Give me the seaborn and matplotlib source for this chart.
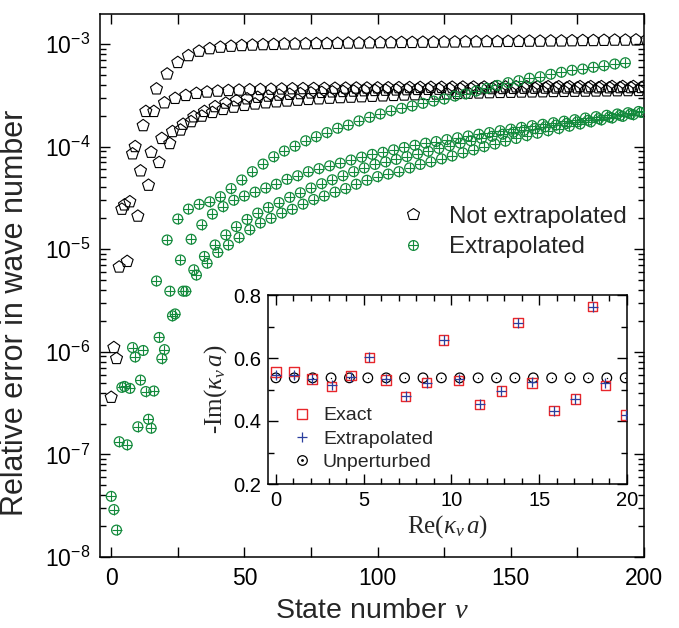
import numpy as np
import pandas as pd
import matplotlib
matplotlib.use("Agg")
import matplotlib.pyplot as plt
import seaborn as sns
from matplotlib.lines import Line2D
from matplotlib.legend_handler import HandlerTuple
from matplotlib import ticker

# ---------------- data (main panel) ----------------
# "Not extrapolated": four interleaved branches (state number nu mod 4)
pent_b0 = [3.6e-7, 2.45e-5, 8.5e-5, 1.6e-4, 2.2e-4, 2.67e-4, 2.95e-4, 3.15e-4, 3.3e-4, 3.4e-4,
           3.47e-4, 3.52e-4, 3.55e-4, 3.58e-4, 3.6e-4, 3.62e-4, 3.64e-4, 3.66e-4, 3.67e-4, 3.68e-4,
           3.69e-4, 3.7e-4, 3.71e-4, 3.72e-4, 3.72e-4, 3.73e-4, 3.74e-4, 3.75e-4, 3.76e-4, 3.77e-4,
           3.78e-4, 3.78e-4, 3.79e-4, 3.8e-4, 3.8e-4, 3.8e-4, 3.81e-4, 3.81e-4, 3.82e-4, 3.82e-4,
           3.82e-4, 3.83e-4, 3.83e-4, 3.83e-4, 3.84e-4, 3.84e-4, 3.84e-4, 3.85e-4, 3.85e-4, 3.85e-4,
           3.85e-4]
pent_b1 = [1.1e-6, 2.7e-5, 1.0e-4, 2.2e-4, 3.65e-4, 5.1e-4, 6.6e-4, 7.7e-4, 8.5e-4, 9.0e-4,
           9.3e-4, 9.5e-4, 9.65e-4, 9.75e-4, 9.85e-4, 9.9e-4, 1.0e-3, 1.0e-3, 1.005e-3, 1.01e-3,
           1.01e-3, 1.015e-3, 1.02e-3, 1.02e-3, 1.025e-3, 1.03e-3, 1.03e-3, 1.035e-3, 1.035e-3, 1.04e-3,
           1.04e-3, 1.045e-3, 1.045e-3, 1.05e-3, 1.05e-3, 1.055e-3, 1.055e-3, 1.06e-3, 1.06e-3, 1.065e-3,
           1.065e-3, 1.07e-3, 1.07e-3, 1.075e-3, 1.08e-3, 1.08e-3, 1.085e-3, 1.09e-3, 1.09e-3, 1.095e-3,
           1.1e-3]
pent_b2 = [8.6e-7, 7.6e-6, 2.1e-5, 4.2e-5, 7.0e-5, 1.07e-4, 1.45e-4, 1.75e-4, 1.98e-4, 2.15e-4,
           2.3e-4, 2.42e-4, 2.52e-4, 2.6e-4, 2.67e-4, 2.73e-4, 2.78e-4, 2.83e-4, 2.88e-4, 2.92e-4,
           2.96e-4, 3.0e-4, 3.03e-4, 3.06e-4, 3.09e-4, 3.12e-4, 3.15e-4, 3.18e-4, 3.2e-4, 3.22e-4,
           3.25e-4, 3.27e-4, 3.29e-4, 3.31e-4, 3.33e-4, 3.35e-4, 3.37e-4, 3.38e-4, 3.4e-4, 3.41e-4,
           3.42e-4, 3.44e-4, 3.45e-4, 3.46e-4, 3.47e-4, 3.48e-4, 3.49e-4, 3.5e-4, 3.51e-4, 3.52e-4]
pent_b3 = [6.7e-6, 2.9e-5, 5.8e-5, 8.8e-5, 1.2e-4, 1.4e-4, 1.65e-4, 1.95e-4, 2.2e-4, 2.45e-4,
           2.65e-4, 2.8e-4, 2.92e-4, 3.02e-4, 3.1e-4, 3.17e-4, 3.23e-4, 3.28e-4, 3.33e-4, 3.37e-4,
           3.41e-4, 3.44e-4, 3.47e-4, 3.5e-4, 3.52e-4, 3.54e-4, 3.56e-4, 3.58e-4, 3.6e-4, 3.61e-4,
           3.62e-4, 3.63e-4, 3.64e-4, 3.65e-4, 3.66e-4, 3.67e-4, 3.68e-4, 3.69e-4, 3.7e-4, 3.7e-4,
           3.71e-4, 3.72e-4, 3.72e-4, 3.73e-4, 3.73e-4, 3.74e-4, 3.74e-4, 3.75e-4, 3.75e-4, 3.76e-4]

# "Extrapolated": four interleaved branches
ext_b0 = [3.9e-8, 4.5e-7, 1.1e-6, 1.03e-6, 4.15e-7, 1.05e-6, 2.34e-6, 3.9e-6, 5.6e-6, 7.3e-6,
          9.3e-6, 1.1e-5, 1.3e-5, 1.55e-5, 1.8e-5, 2.0e-5, 2.25e-5, 2.45e-5, 2.75e-5, 3.05e-5,
          3.3e-5, 3.6e-5, 3.9e-5, 4.3e-5, 4.7e-5, 5.1e-5, 5.4e-5, 5.7e-5, 6.2e-5, 6.7e-5,
          7.1e-5, 7.6e-5, 8.1e-5, 8.7e-5, 9.3e-5, 1.0e-4, 1.06e-4, 1.13e-4, 1.2e-4, 1.28e-4,
          1.35e-4, 1.43e-4, 1.5e-4, 1.58e-4, 1.66e-4, 1.74e-4, 1.82e-4, 1.9e-4, 1.97e-4, 2.05e-4]
ext_b1 = [2.9e-8, 4.6e-7, 8.9e-7, 4.1e-7, 4.9e-6, 1.23e-5, 1.97e-5, 2.46e-5, 2.74e-5, 2.9e-5,
          3.25e-5, 3.9e-5, 4.73e-5, 5.7e-5, 6.76e-5, 7.97e-5, 9.06e-5, 1.01e-4, 1.14e-4, 1.25e-4,
          1.37e-4, 1.51e-4, 1.62e-4, 1.78e-4, 1.93e-4, 2.08e-4, 2.24e-4, 2.36e-4, 2.49e-4, 2.64e-4,
          2.78e-4, 2.91e-4, 3.11e-4, 3.26e-4, 3.48e-4, 3.7e-4, 3.95e-4, 4.2e-4, 4.39e-4, 4.64e-4,
          4.8e-4, 5.07e-4, 5.3e-4, 5.55e-4, 5.7e-4, 5.93e-4, 6.15e-4, 6.38e-4, 6.57e-4]
ext_b2 = [1.83e-8, 1.24e-7, 1.86e-7, 2.2e-7, 1.38e-6, 3.9e-6, 7.85e-6, 1.25e-5, 1.73e-5, 2.2e-5,
          2.6e-5, 3.0e-5, 3.3e-5, 3.6e-5, 3.95e-5, 4.3e-5, 4.8e-5, 5.2e-5, 5.7e-5, 6.1e-5,
          6.5e-5, 6.9e-5, 7.4e-5, 7.9e-5, 8.4e-5, 8.8e-5, 9.3e-5, 9.8e-5, 1.03e-4, 1.08e-4,
          1.12e-4, 1.17e-4, 1.22e-4, 1.27e-4, 1.32e-4, 1.37e-4, 1.43e-4, 1.48e-4, 1.54e-4, 1.6e-4,
          1.65e-4, 1.71e-4, 1.77e-4, 1.83e-4, 1.9e-4, 1.96e-4, 2.02e-4, 2.08e-4, 2.14e-4, 2.2e-4]
ext_b3 = [1.33e-7, 4.4e-7, 5.3e-7, 1.8e-7, 8.6e-7, 2.24e-6, 3.9e-6, 6.3e-6, 8.5e-6, 1.1e-5,
          1.38e-5, 1.66e-5, 1.95e-5, 2.25e-5, 2.55e-5, 2.85e-5, 3.2e-5, 3.55e-5, 3.95e-5, 4.35e-5,
          4.75e-5, 5.2e-5, 5.7e-5, 6.2e-5, 6.7e-5, 7.1e-5, 7.5e-5, 8.0e-5, 8.5e-5, 9.0e-5,
          9.6e-5, 1.02e-4, 1.08e-4, 1.14e-4, 1.2e-4, 1.26e-4, 1.32e-4, 1.38e-4, 1.44e-4, 1.5e-4,
          1.56e-4, 1.62e-4, 1.68e-4, 1.74e-4, 1.8e-4, 1.87e-4, 1.94e-4, 2.01e-4, 2.08e-4, 2.15e-4]

# ---------------- data (inset) ----------------
re_exact = [0.0, 1.04, 2.05, 3.18, 4.28, 5.32, 6.27, 7.39, 8.58, 9.56,
            10.41, 11.61, 12.84, 13.78, 14.6, 15.83, 17.06, 18.05, 18.77, 19.94]
im_exact = [0.555, 0.557, 0.533, 0.509, 0.544, 0.602, 0.530, 0.477, 0.522, 0.657,
            0.528, 0.453, 0.495, 0.712, 0.520, 0.433, 0.470, 0.763, 0.513, 0.419]
im_extrap = [0.546, 0.546, 0.533, 0.515, 0.540, 0.602, 0.532, 0.479, 0.520, 0.657,
             0.532, 0.453, 0.495, 0.712, 0.525, 0.433, 0.470, 0.763, 0.520, 0.419]
re_unpert = [0.0, 1.047, 2.094, 3.142, 4.189, 5.236, 6.283, 7.330, 8.378, 9.425,
             10.472, 11.519, 12.566, 13.614, 14.661, 15.708, 16.755, 17.802, 18.850, 19.897]
im_unpert = [0.537] * 20

labels_main = ["Not extrapolated", "Extrapolated"]
labels_inset = ["Exact", "Extrapolated", "Unperturbed"]

GREEN = "#138a3c"
RED = "#e8262b"
BLUE = "#2b3f9e"


def branch_frame(vals, start):
    nu = np.arange(start, start + 4 * len(vals), 4)
    return pd.DataFrame({"nu": nu, "err": vals})


pent = pd.concat([branch_frame(v, s) for v, s in
                  [(pent_b0, 0), (pent_b1, 1), (pent_b2, 2), (pent_b3, 3)]])
ext = pd.concat([branch_frame(v, s) for v, s in
                 [(ext_b0, 0), (ext_b1, 1), (ext_b2, 2), (ext_b3, 3)]])
inset_df = pd.DataFrame({"re": re_exact, "exact": im_exact, "extrap": im_extrap})
unp_df = pd.DataFrame({"re": re_unpert, "im": im_unpert})

# ---------------- style ----------------
sns.set_style("ticks")
plt.rcParams.update({
    "font.family": ["Liberation Sans", "DejaVu Sans"],
    "mathtext.fontset": "custom",
    "mathtext.rm": "Liberation Sans",
    "mathtext.sf": "Liberation Sans",
    "mathtext.it": "Liberation Serif:italic",
    "mathtext.bf": "Liberation Sans:bold",
    "axes.edgecolor": "black",
    "axes.linewidth": 1.1,
    "xtick.color": "black",
    "ytick.color": "black",
})

fig = plt.figure(figsize=(6.79, 6.28), dpi=100)
W, H = 679.0, 628.0
ax = fig.add_axes([100 / W, 1 - 557 / H, 544 / W, 543 / H])

sns.scatterplot(data=pent, x="nu", y="err", ax=ax, marker="p", s=82,
                facecolor="none", edgecolor="black", linewidth=0.8, legend=False, zorder=3)
sns.scatterplot(data=ext, x="nu", y="err", ax=ax, marker="o", s=50,
                facecolor="none", edgecolor=GREEN, linewidth=0.9, legend=False, zorder=4)
sns.scatterplot(data=ext, x="nu", y="err", ax=ax, marker="+", s=50,
                color=GREEN, linewidth=0.8, legend=False, zorder=4)

ax.set_yscale("log")
ax.set_xlim(-4.2, 200)
ax.set_ylim(1e-8, 1.96e-3)
ax.xaxis.set_major_locator(ticker.MultipleLocator(50))
ax.xaxis.set_minor_locator(ticker.MultipleLocator(25))
ax.yaxis.set_major_locator(ticker.LogLocator(base=10, numticks=20))
ax.yaxis.set_minor_locator(ticker.LogLocator(base=10, subs=np.arange(2, 10), numticks=20))
ax.yaxis.set_major_formatter(ticker.LogFormatterMathtext())
ax.yaxis.set_minor_formatter(ticker.NullFormatter())
ax.tick_params(which="both", direction="in", top=True, right=True, width=1.0)
ax.tick_params(which="major", length=7, labelsize=16.5, pad=7)
ax.tick_params(axis="x", which="minor", length=7)
ax.tick_params(axis="y", which="minor", length=4)
ax.set_xlabel(r"State number $\nu$", fontsize=20.5, labelpad=6)
ax.set_ylabel("Relative error in wave number", fontsize=22)
ax.yaxis.set_label_coords(-0.128, 0.45)

h_pent = Line2D([], [], ls="none", marker="p", ms=9.0, mfc="none", mec="black", mew=0.8)
h_c = Line2D([], [], ls="none", marker="o", ms=7.0, mfc="none", mec=GREEN, mew=0.9)
h_p = Line2D([], [], ls="none", marker="+", ms=7.0, color=GREEN, mew=0.8)
ax.legend([h_pent, (h_c, h_p)], labels_main, loc="center left",
          bbox_to_anchor=(391 / W, 1 - 232 / H), bbox_transform=fig.transFigure,
          frameon=False, fontsize=17.5, handlelength=1.0, handletextpad=1.0,
          labelspacing=0.33, borderpad=0.4, borderaxespad=0,
          handler_map={tuple: HandlerTuple(ndivide=1, pad=0)})

# ---------------- inset ----------------
axi = fig.add_axes([268 / W, 1 - 484 / H, 359 / W, 189 / H])
axi.set_facecolor("white")
sns.scatterplot(data=unp_df, x="re", y="im", ax=axi, marker="o", s=48,
                facecolor="none", edgecolor="black", linewidth=0.9, legend=False, zorder=3)
sns.scatterplot(data=unp_df, x="re", y="im", ax=axi, marker="o", s=1,
                color="black", linewidth=0, legend=False, zorder=3)
sns.scatterplot(data=inset_df, x="re", y="exact", ax=axi, marker="s", s=46,
                facecolor="none", edgecolor=RED, linewidth=1.0, legend=False, zorder=4)
sns.scatterplot(data=inset_df, x="re", y="extrap", ax=axi, marker="+", s=46,
                color=BLUE, linewidth=0.9, legend=False, zorder=5)
axi.set_xlim(-0.45, 20)
axi.set_ylim(0.2, 0.8)
axi.xaxis.set_major_locator(ticker.MultipleLocator(5))
axi.xaxis.set_minor_locator(ticker.MultipleLocator(1))
axi.yaxis.set_major_locator(ticker.MultipleLocator(0.2))
axi.yaxis.set_minor_locator(ticker.MultipleLocator(0.1))
axi.yaxis.set_major_formatter(ticker.FormatStrFormatter("%.1f"))
axi.tick_params(which="both", direction="in", top=True, right=True, width=1.0)
axi.tick_params(which="major", length=7, labelsize=14.5, pad=5)
axi.tick_params(which="minor", length=4)
axi.set_xlabel(r"Re($\kappa_\nu\, a$)", fontsize=18, family="Liberation Serif", labelpad=2)
axi.set_ylabel(r"-Im($\kappa_\nu\, a$)", fontsize=18, family="Liberation Serif", labelpad=3)

hi_sq = Line2D([], [], ls="none", marker="s", ms=6.6, mfc="none", mec=RED, mew=1.0)
hi_pl = Line2D([], [], ls="none", marker="+", ms=6.6, color=BLUE, mew=0.9)
hi_ci = Line2D([], [], ls="none", marker="o", ms=6.9, mfc="none", mec="black", mew=0.9)
hi_dot = Line2D([], [], ls="none", marker="o", ms=1.0, color="black")
axi.legend([hi_sq, hi_pl, (hi_ci, hi_dot)], labels_inset, loc="center left",
           bbox_to_anchor=(284 / W, 1 - 439 / H), bbox_transform=fig.transFigure,
           frameon=False, fontsize=14, handlelength=1.0, handletextpad=0.6,
           labelspacing=0.3, borderpad=0.4, borderaxespad=0,
           handler_map={tuple: HandlerTuple(ndivide=1, pad=0)})

fig.savefig("out.png", dpi=100)
